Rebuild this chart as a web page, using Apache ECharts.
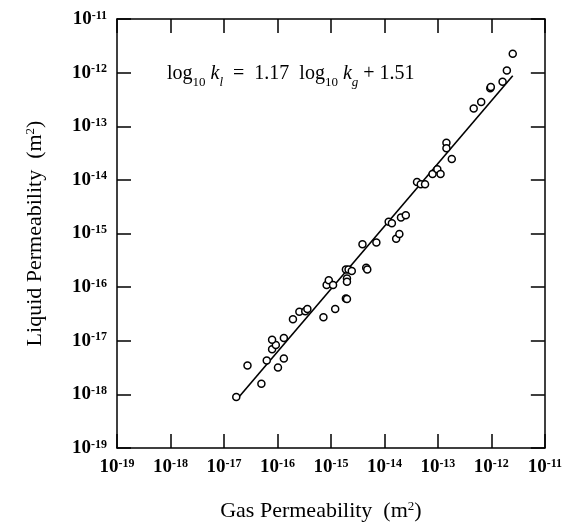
<!DOCTYPE html>
<html>
<head>
<meta charset="utf-8">
<script src="https://cdn.jsdelivr.net/npm/echarts@6/dist/echarts.min.js"></script>
<style>
  html, body { margin: 0; padding: 0; background: #fff; }
  #chart { width: 565px; height: 531px; }
</style>
</head>
<body>
<div id="chart"></div>
<script>
// log10 of gas permeability (m^2)
const gasLogK = [
  -16.77, -16.56, -16.30, -16.20, -15.99, -15.88, -16.10, -16.03, -16.10, -15.88,
  -15.71, -15.59, -15.48, -15.44, -15.14, -14.92, -15.08, -15.04, -14.96, -14.72,
  -14.67, -14.61, -14.70, -14.70, -14.72, -14.70, -14.41, -14.34, -14.32, -14.15,
  -13.78, -13.72, -13.92, -13.86, -13.69, -13.60, -13.39, -13.32, -13.24, -13.10,
  -13.01, -12.95, -12.84, -12.84, -12.74, -12.33, -12.19, -12.02, -12.01, -11.79,
  -11.71, -11.60
];
// log10 of liquid permeability (m^2)
const liqLogK = [
  -18.05, -17.46, -17.80, -17.37, -17.50, -17.33, -17.16, -17.08, -16.98, -16.95,
  -16.60, -16.46, -16.45, -16.41, -16.56, -16.41, -15.96, -15.87, -15.96, -15.67,
  -15.67, -15.70, -15.84, -15.90, -16.21, -16.22, -15.20, -15.64, -15.67, -15.17,
  -15.10, -15.01, -14.78, -14.81, -14.70, -14.66, -14.04, -14.08, -14.08, -13.89,
  -13.80, -13.89, -13.31, -13.41, -13.61, -12.67, -12.55, -12.29, -12.27, -12.17,
  -11.96, -11.65
];
// fitted line end points (log10 kg, log10 kl)
const fitGas = [-16.72, -11.60];
const fitLiq = [-18.05, -12.06];
// decades shown on both axes
const decadeMin = -19;
const decadeMax = -11;

const serif = 'Liberation Serif';
const points = gasLogK.map((g, i) => [g, liqLogK[i]]);
const fitLine = fitGas.map((g, i) => [g, fitLiq[i]]);

const tickRich = {
  b: { fontFamily: serif, fontSize: 19, fontWeight: 'bold', color: '#000' },
  s: { fontFamily: serif, fontSize: 12, fontWeight: 'bold', color: '#000', verticalAlign: 'top' }
};
const powLabel = v => '{b|10}{s|' + v + '}';

const titleStyle = (pad) => ({
  fontFamily: serif, fontSize: 22, color: '#000', padding: pad,
  rich: { sup: { fontFamily: serif, fontSize: 13, color: '#000', verticalAlign: 'top' } }
});

const mainAxis = (pos) => ({
  type: 'value',
  position: pos,
  min: decadeMin,
  max: decadeMax,
  interval: 1,
  axisLine: { show: true, onZero: false, lineStyle: { color: '#000', width: 1.5 } },
  axisTick: { show: true, inside: true, length: 14, lineStyle: { color: '#000', width: 1.5 } },
  splitLine: { show: false },
  axisLabel: { show: false }
});

const xBottom = Object.assign(mainAxis('bottom'), {
  axisLabel: { show: true, margin: 10, formatter: powLabel, rich: tickRich },
  name: 'Gas Permeability  (m{sup|2})',
  nameLocation: 'middle',
  nameGap: 52,
  nameTextStyle: titleStyle([0, 20, 0, 0])
});
const yLeft = Object.assign(mainAxis('left'), {
  axisLabel: { show: true, margin: 10, formatter: powLabel, rich: tickRich },
  name: 'Liquid Permeability  (m{sup|2})',
  nameLocation: 'middle',
  nameGap: 71,
  nameTextStyle: titleStyle([0, 0, 0, 0])
});

// equation tokens: m = normal, i = italic k, sub = lowered index
const eqRich = {
  m: { fontFamily: serif, fontSize: 20, lineHeight: 22, fill: '#000', verticalAlign: 'top' },
  i: { fontFamily: serif, fontSize: 20, lineHeight: 22, fontStyle: 'italic', fill: '#000', verticalAlign: 'top' },
  sub: { fontFamily: serif, fontSize: 13, lineHeight: 25, fill: '#000', verticalAlign: 'bottom' },
  isub: { fontFamily: serif, fontSize: 13, lineHeight: 25, fontStyle: 'italic', fill: '#000', verticalAlign: 'bottom' }
};

const chart = echarts.init(document.getElementById('chart'));
chart.setOption({
  backgroundColor: '#fff',
  animation: false,
  grid: { left: 117, right: 17, top: 19, bottom: 83 },
  xAxis: [xBottom, Object.assign(mainAxis('top'), { gridIndex: 0 })],
  yAxis: [yLeft, Object.assign(mainAxis('right'), { gridIndex: 0 })],
  graphic: [{
    type: 'text',
    left: 167,
    top: 64,
    style: {
      text: '{m|log}{sub|10}{m| }{i|k}{isub|l}{m|  =  1.17  log}{sub|10}{m| }{i|k}{isub|g}{m| + 1.51}',
      fontFamily: serif,
      fontSize: 20,
      fill: '#000',
      rich: eqRich
    }
  }],
  series: [
    {
      type: 'line',
      data: fitLine,
      symbol: 'none',
      lineStyle: { color: '#000', width: 1.6 },
      z: 2
    },
    {
      type: 'scatter',
      data: points,
      symbol: 'circle',
      symbolSize: 7,
      itemStyle: { color: '#fff', borderColor: '#000', borderWidth: 1.5, opacity: 1 },
      z: 3
    }
  ]
});
</script>
</body>
</html>
